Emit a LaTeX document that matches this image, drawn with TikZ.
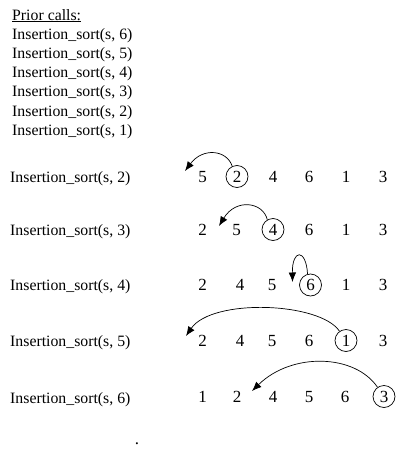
\documentclass[tikz,border=0pt]{standalone}
\usepackage{fontspec}
\setmainfont{Liberation Serif}
\usetikzlibrary{arrows.meta}
\begin{document}
\begin{tikzpicture}[x=1pt,y=-1pt,
  lbl/.style={anchor=base west,inner sep=0pt,font=\fontsize{15.8}{18}\selectfont},
  dig/.style={anchor=base,inner sep=0pt,font=\fontsize{17}{19}\selectfont},
  ring/.style={draw,circle,line width=0.7pt,minimum size=22pt,inner sep=0pt},
  arr/.style={line width=0.7pt,-{Latex[length=9.5pt,width=7.5pt]}}]
\useasboundingbox (0,0) rectangle (401,453);
% prior calls list
\node[lbl] (pc) at (12,20) {\underline{Prior calls:}};
\node[lbl] (p6) at (12,39.2) {Insertion\_sort(s, 6)};
\node[lbl] (p5) at (12,58.4) {Insertion\_sort(s, 5)};
\node[lbl] (p4) at (12,77.6) {Insertion\_sort(s, 4)};
\node[lbl] (p3) at (12,96.8) {Insertion\_sort(s, 3)};
\node[lbl] (p2) at (12,116) {Insertion\_sort(s, 2)};
\node[lbl] (p1) at (12,135.2) {Insertion\_sort(s, 1)};
% row labels
\node[lbl] (l1) at (10,182) {Insertion\_sort(s, 2)};
\node[lbl] (l2) at (10,235) {Insertion\_sort(s, 3)};
\node[lbl] (l3) at (10,290.5) {Insertion\_sort(s, 4)};
\node[lbl] (l4) at (10,346.5) {Insertion\_sort(s, 5)};
\node[lbl] (l5) at (10,403) {Insertion\_sort(s, 6)};
% row 1
\node[dig] (r1a) at (202.5,182) {5};
\node[dig] (r1b) at (237,182) {2};
\node[dig] (r1c) at (273,182) {4};
\node[dig] (r1d) at (309,182) {6};
\node[dig] (r1e) at (346,182) {1};
\node[dig] (r1f) at (383,182) {3};
\node[ring] (c1) at (237,176.5) {};
\coordinate (t1) at (185,171);
\draw[arr] (c1.115) .. controls (227,150) and (203,147) .. (t1);
% row 2
\node[dig] (r2a) at (202.5,235) {2};
\node[dig] (r2b) at (236.5,235) {5};
\node[dig] (r2c) at (273,235) {4};
\node[dig] (r2d) at (309,235) {6};
\node[dig] (r2e) at (346,235) {1};
\node[dig] (r2f) at (383,235) {3};
\node[ring] (c2) at (273,229.5) {};
\coordinate (t2) at (219,226);
\draw[arr] (c2.120) .. controls (263,202) and (236,198) .. (t2);
% row 3
\node[dig] (r3a) at (202.5,290.5) {2};
\node[dig] (r3b) at (240,290.5) {4};
\node[dig] (r3c) at (272,290.5) {5};
\node[dig] (r3d) at (310.5,290.5) {6};
\node[dig] (r3e) at (346,290.5) {1};
\node[dig] (r3f) at (383,290.5) {3};
\node[ring] (c3) at (310.5,285) {};
\coordinate (t3) at (292.5,282);
\draw[arr] (c3.105) .. controls (306,248) and (292,249) .. (t3);
% row 4
\node[dig] (r4a) at (202.5,346) {2};
\node[dig] (r4b) at (240,346) {4};
\node[dig] (r4c) at (272,346) {5};
\node[dig] (r4d) at (309,346) {6};
\node[dig] (r4e) at (346,346) {1};
\node[dig] (r4f) at (383,346) {3};
\node[ring] (c4) at (346,340.5) {};
\coordinate (t4) at (186,336);
\draw[arr] (c4.125) .. controls (320,302) and (212,298) .. (t4);
% row 5
\node[dig] (r5a) at (202.5,402) {1};
\node[dig] (r5b) at (237,402) {2};
\node[dig] (r5c) at (273,402) {4};
\node[dig] (r5d) at (309,402) {5};
\node[dig] (r5e) at (345,402) {6};
\node[dig] (r5f) at (384,402) {3};
\node[ring] (c5) at (384,396.5) {};
\coordinate (t5) at (252,391);
\draw[arr] (c5.125) .. controls (355,354) and (292,352) .. (t5);
% stray dot
\node[dig] (dot) at (137,444) {.};
\end{tikzpicture}
\end{document}
